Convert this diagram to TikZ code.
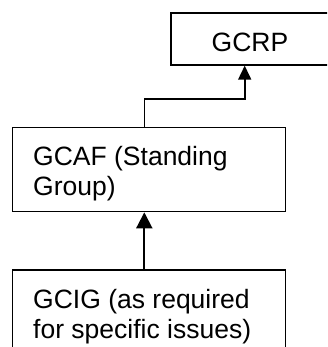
\documentclass[tikz,border=0pt]{standalone}
\usepackage{fontspec}
\setmainfont{Liberation Sans}
\usetikzlibrary{arrows.meta}
\begin{document}
\begin{tikzpicture}[x=1pt,y=-1pt,
  box/.style={draw=black,line width=1.3pt,rectangle,inner sep=0pt,fill=white},
  lbl/.style={inner sep=0pt,anchor=base west,font=\fontsize{26.5}{30}\selectfont},
  lblc/.style={inner sep=0pt,anchor=base,font=\fontsize{26.5}{30}\selectfont},
  conn/.style={draw=black,line width=1.8pt},
  tipA/.style={-{Triangle[length=14pt,width=13pt]}},
  tipB/.style={-{Triangle[length=16pt,width=16pt]}}]
\useasboundingbox (0,0) rectangle (327,347);
\clip (0,0) rectangle (327,347);
\fill[white] (0,0) rectangle (327,347);
% boxes
\node[box,minimum width=158pt,minimum height=52pt] (gcrp) at (250,39) {};
\node[box,minimum width=273.4pt,minimum height=84pt] (gcaf) at (149,169.7) {};
\node[box,minimum width=273.4pt,minimum height=110pt] (gcig) at (149,325) {};
% labels
\node[lblc] (tgcrp) at (250,51.7) {GCRP};
\node[lbl] (tgcaf1) at (33,165) {GCAF (Standing};
\node[lbl] (tgcaf2) at (33,195) {Group)};
\node[lbl] (tgcig1) at (33,308) {GCIG (as required};
\node[lbl] (tgcig2) at (33,338) {for specific issues)};
% connectors
\coordinate (k1) at (144.3,99.3);
\coordinate (k2) at (244.7,99.3);
\draw[conn,line width=1.6pt,tipA] (k1 |- gcaf.north) -- (k1) -- (k2) -- (k2 |- gcrp.south);
\draw[conn,line width=2pt,tipB] (k1 |- gcig.north) -- (k1 |- gcaf.south);
\end{tikzpicture}
\end{document}
